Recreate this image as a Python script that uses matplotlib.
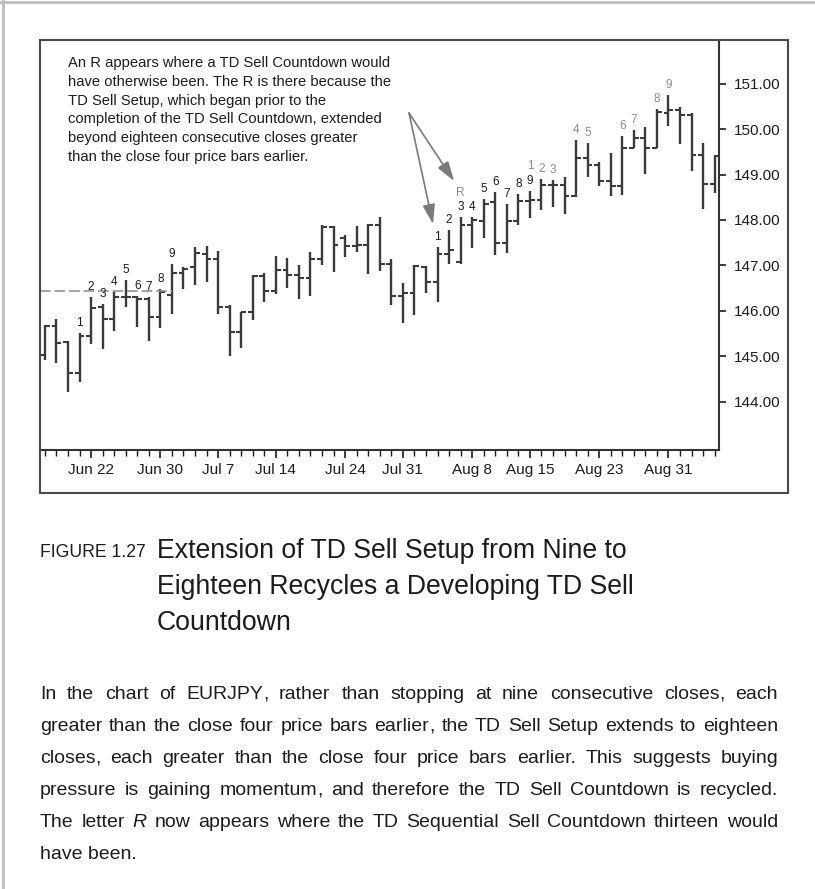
import numpy as np
import matplotlib
matplotlib.use("Agg")
import matplotlib.pyplot as plt
from matplotlib.lines import Line2D
from matplotlib.patches import Rectangle

# EURJPY daily bars
opens = [145.03, 145.67, 145.32, 144.63, 145.45, 146.09, 145.83, 146.30, 146.30, 146.27,
         145.87, 146.35, 146.84, 146.97, 147.26, 147.15, 146.08, 145.53, 145.97, 146.76,
         146.44, 146.89, 146.80, 146.73, 147.14, 147.85, 147.61, 147.42, 147.46, 147.88,
         147.04, 146.33, 146.40, 146.97, 146.64, 147.25, 147.08, 147.88, 147.98, 148.40,
         147.50, 147.98, 148.42, 148.45, 148.78, 148.78, 148.52, 149.37, 149.22, 148.86,
         148.75, 149.59, 149.81, 149.59, 150.35, 150.42, 150.32, 149.43, 148.80]
highs = [145.69, 145.83, 145.34, 145.52, 146.30, 146.16, 146.42, 146.68, 146.33, 146.30,
         146.49, 147.04, 146.97, 147.41, 147.43, 147.31, 146.13, 145.98, 146.79, 146.84,
         147.20, 147.17, 147.00, 147.30, 147.88, 147.86, 147.66, 147.86, 147.92, 148.07,
         147.15, 146.62, 147.01, 146.98, 147.41, 147.77, 148.07, 148.07, 148.47, 148.62,
         148.36, 148.58, 148.64, 148.91, 148.89, 148.94, 149.75, 149.70, 149.27, 149.48,
         149.84, 149.98, 150.04, 150.44, 150.75, 150.48, 150.36, 149.69, 149.42]
lows = [144.92, 144.85, 144.21, 144.44, 145.27, 145.16, 145.56, 146.08, 145.64, 145.34,
        145.62, 145.94, 146.49, 146.57, 146.64, 145.94, 145.01, 145.18, 145.80, 146.19,
        146.38, 146.50, 146.26, 146.33, 147.00, 146.86, 147.19, 147.30, 146.81, 146.88,
        146.13, 145.74, 145.91, 146.40, 146.20, 147.04, 147.04, 147.39, 147.61, 147.23,
        147.28, 147.88, 148.05, 148.21, 148.29, 148.13, 148.51, 148.94, 148.74, 148.52,
        148.56, 149.59, 149.02, 149.59, 150.06, 149.68, 149.07, 148.25, 148.59]
closes = [145.67, 145.30, 144.63, 145.45, 146.07, 145.82, 146.30, 146.30, 146.27, 145.87,
          146.42, 146.84, 146.92, 147.28, 147.15, 146.08, 145.53, 145.97, 146.76, 146.44,
          146.90, 146.80, 146.73, 147.14, 147.85, 147.46, 147.42, 147.46, 147.88, 147.04,
          146.33, 146.40, 146.98, 146.64, 147.25, 147.35, 147.88, 147.99, 148.36, 147.50,
          147.98, 148.42, 148.45, 148.78, 148.78, 148.52, 149.37, 149.22, 148.86, 148.75,
          149.58, 149.81, 149.59, 150.37, 150.42, 150.32, 149.43, 148.80, 149.40]

date_idx = [4, 10, 15, 20, 26, 31, 37, 42, 48, 54]
date_labels = ["Jun 22", "Jun 30", "Jul 7", "Jul 14", "Jul 24", "Jul 31",
               "Aug 8", "Aug 15", "Aug 23", "Aug 31"]
price_ticks = [144, 145, 146, 147, 148, 149, 150, 151]

setup_bars = [3, 4, 5, 6, 7, 8, 9, 10, 11, 34, 35, 36, 37, 38, 39, 40, 41, 42]
setup_text = ["1", "2", "3", "4", "5", "6", "7", "8", "9",
              "1", "2", "3", "4", "5", "6", "7", "8", "9"]
ext_bars = [42, 43, 44, 46, 47, 50, 51, 53, 54]
ext_text = ["1", "2", "3", "4", "5", "6", "7", "8", "9"]
recycle_bar = 36
tdst_level = 146.44
tdst_end = 11

note_lines = ["An R appears where a TD Sell Countdown would",
              "have otherwise been. The R is there because the",
              "TD Sell Setup, which began prior to the",
              "completion of the TD Sell Countdown, extended",
              "beyond eighteen consecutive closes greater",
              "than the close four price bars earlier."]
title_lines = ["Extension of TD Sell Setup from Nine to",
               "Eighteen Recycles a Developing TD Sell",
               "Countdown"]
body_lines = ["In the chart of EURJPY, rather than stopping at nine consecutive closes, each",
              "greater than the close four price bars earlier, the TD Sell Setup extends to eighteen",
              "closes, each greater than the close four price bars earlier. This suggests buying",
              "pressure is gaining momentum, and therefore the TD Sell Countdown is recycled.",
              "The letter R now appears where the TD Sequential Sell Countdown thirteen would",
              "have been."]

plt.rcParams["font.family"] = ["Liberation Sans", "DejaVu Sans"]
ink = "#1c1c1c"
bar_c = "#3a3a3a"
grey = "#8c8c8c"

W, H = 815, 889
fig = plt.figure(figsize=(W / 100, H / 100), dpi=100)
ax = fig.add_axes([39.5 / W, 1 - 449.5 / H, (719 - 39.5) / W, (449.5 - 39.5) / H])

x = np.arange(len(closes))
ax.vlines(x, lows, highs, color=bar_c, lw=1.7)
ax.hlines(opens, x - 0.42, x, color=bar_c, lw=1.5)
ax.hlines(closes, x, x + 0.42, color=bar_c, lw=1.5)

x_left = -0.47
ax.set_xlim(x_left, 58.38)
ax.set_ylim(142.95, 151.97)
ax.plot([x_left, tdst_end], [tdst_level, tdst_level], color=grey, lw=1.1,
        linestyle=(0, (7, 2.5)))

for s in ["left", "top"]:
    ax.spines[s].set_visible(False)
for s in ["right", "bottom"]:
    ax.spines[s].set_linewidth(1.5)
    ax.spines[s].set_color("#333333")

ax.yaxis.tick_right()
ax.set_yticks(price_ticks, [f"{v:.2f}" for v in price_ticks])
ax.set_xticks(date_idx, date_labels)
ax.set_xticks(x, minor=True)
ax.tick_params(axis="y", direction="out", length=5, width=1.2, pad=6,
               labelsize=11, colors=ink)
ax.tick_params(axis="x", which="major", direction="out", length=6, width=1.2,
               pad=4, labelsize=11, colors=ink)
ax.tick_params(axis="x", which="minor", direction="out", length=4, width=1.0, colors=ink)

for i, t in zip(setup_bars, setup_text):
    ax.annotate(t, (i, highs[i]), xytext=(0, 7.2), textcoords="offset points",
                ha="center", va="center", fontsize=8.5, color=ink)
for i, t in zip(ext_bars, ext_text):
    up = 18 if i in setup_bars else 7.2
    ax.annotate(t, (i, highs[i]), xytext=(0, up), textcoords="offset points",
                ha="center", va="center", fontsize=8.5, color=grey)
ax.annotate("R", (recycle_bar, highs[recycle_bar]), xytext=(0, 17.3),
            textcoords="offset points", ha="center", va="center", fontsize=8.5,
            color=grey)

# frame round the chart
fig.add_artist(Rectangle((39.5 / W, 1 - 493 / H), (788 - 39.5) / W, (493 - 39.5) / H,
                         transform=fig.transFigure, fill=False, ec="#4a4a4a", lw=1.5))

# note and arrows
for k, line in enumerate(note_lines):
    fig.text(68 / W, 1 - (67.2 + 18.7 * k) / H, line, fontsize=10.6,
             va="baseline", color=ink)
for tip in [(433, 224), (454, 181)]:
    ax.annotate("", xy=(tip[0], H - tip[1]), xytext=(409, H - 113),
                xycoords="figure pixels", textcoords="figure pixels",
                arrowprops=dict(arrowstyle="-|>,head_length=0.85,head_width=0.27",
                                color="#7a7a7a", lw=1.2, mutation_scale=14,
                                shrinkA=0, shrinkB=0))

# caption
fig.text(40 / W, 1 - 557 / H, "FIGURE 1.27", fontsize=12.7, va="baseline", color=ink)
for k, line in enumerate(title_lines):
    fig.text(157 / W, 1 - (558 + 36 * k) / H, line, fontsize=19.2,
             va="baseline", color=ink)

# justified body text, word by word (commas set apart so baselines stay level)
renderer = fig.canvas.get_renderer()
x0, x1 = 40, 778
for k, line in enumerate(body_lines):
    yb = 1 - (699 + 32 * k) / H
    if k == len(body_lines) - 1:
        fig.text(x0 / W, yb, line, fontsize=14, va="baseline", color=ink)
        continue
    groups = []
    for w in line.split():
        parts = [w[:-1], ","] if w.endswith(",") else [w]
        arts = [fig.text(0, yb, p, fontsize=14, va="baseline", color=ink,
                         style="italic" if (k == 4 and p == "R") else "normal")
                for p in parts]
        groups.append((arts, [a.get_window_extent(renderer).width for a in arts]))
    total = sum(sum(ws) for _, ws in groups)
    gap = (x1 - x0 - total) / (len(groups) - 1)
    pos = x0
    for arts, ws in groups:
        for a, w in zip(arts, ws):
            a.set_x(pos / W)
            pos += w
        pos += gap

# page edges
fig.add_artist(Line2D([3 / W, 3 / W], [0, 1], transform=fig.transFigure,
                      color="#bdbdbd", lw=2))
fig.add_artist(Line2D([0, 1], [1 - 2 / H, 1 - 2 / H], transform=fig.transFigure,
                      color="#bdbdbd", lw=2))

fig.savefig("out.png", dpi=100)
